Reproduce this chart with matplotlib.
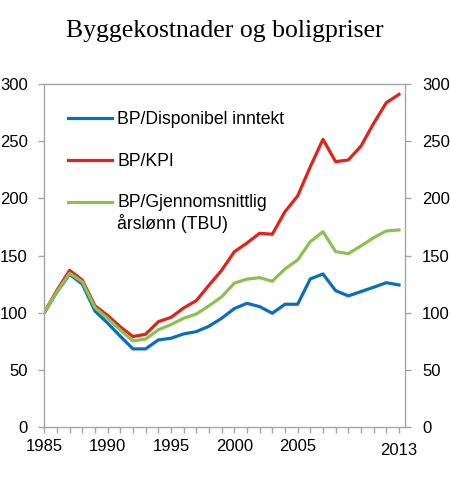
import matplotlib
matplotlib.use("Agg")
import matplotlib.pyplot as plt

years = list(range(1985, 2014))
bp_kpi = [100, 119.5, 137, 128.5, 106, 97.5, 87.5, 79, 81, 92, 95.8, 104, 110.5, 124, 137,
          153.3, 161, 169.5, 168.6, 188.4, 202.2, 227.8, 251.8, 232.2, 233.7, 245.9, 265.8, 283.9, 291.2]
bp_tbu = [100, 118.3, 134.4, 127, 104.3, 95, 84.7, 75.2, 76.8, 84.9, 89.5, 95, 98.7, 105.9, 113.8,
          125.8, 129.3, 130.6, 127.4, 138.2, 146.1, 162.1, 170.9, 153.4, 151.6, 158.4, 165.6, 171.5, 172.4]
bp_inntekt = [100, 118, 133.5, 125, 101.4, 90.8, 79.2, 68.2, 68.2, 76, 77.5, 81.3, 83.3, 88, 95,
              103.5, 108.1, 105.2, 99.4, 107.3, 107.3, 129.5, 133.8, 119.2, 114.6, 118.4, 122.2, 126.2, 124.2]

labels = ["BP/Disponibel inntekt", "BP/KPI", "BP/Gjennomsnittlig\nårslønn (TBU)"]
xtick_major = [1985, 1990, 1995, 2000, 2005, 2013]
yticks = [0, 50, 100, 150, 200, 250, 300]
title = "Byggekostnader og boligpriser"

c_blue = "#0a6ebd"
c_red = "#e2231a"
c_green = "#8cc152"
grey = "#a6a6a6"

plt.rcParams['font.family'] = ['Liberation Sans', 'DejaVu Sans']

fig = plt.figure(figsize=(4.5, 4.78), dpi=100)
ax = fig.add_axes([0.0984, 0.1073, 0.8023, 0.7163])

ax.plot(years, bp_inntekt, color=c_blue, lw=2.3, label=labels[0])
ax.plot(years, bp_kpi, color=c_red, lw=2.3, label=labels[1])
ax.plot(years, bp_tbu, color=c_green, lw=2.3, label=labels[2])

ax.set_xlim(1985, 2013.5)
ax.set_ylim(0, 300)
ax.set_yticks(yticks)
ax.set_xticks(xtick_major)
ax.set_xticks(years, minor=True)
ax.set_xticklabels([str(y) for y in xtick_major])

for s in ax.spines.values():
    s.set_color(grey)
    s.set_linewidth(1.0)

ax.tick_params(axis='y', which='both', direction='out', length=4, width=1, color=grey,
               left=True, right=True, labelleft=True, labelright=True, labelsize=12, pad=8)
ax.tick_params(axis='x', which='both', direction='out', length=4, width=1, color=grey,
               bottom=True, top=False, labelsize=12, pad=5)

ticks = ax.xaxis.get_major_ticks()
ticks[-1].set_pad(8)

leg = ax.legend(loc='upper left', bbox_to_anchor=(0.0657, 0.922), frameon=False, fontsize=12.7,
                handlelength=2.5, handletextpad=0.3, borderpad=0, borderaxespad=0,
                labelspacing=1.4, handleheight=1.09)
for col in leg._legend_handle_box.get_children():
    for row in col.get_children():
        row.align = 'top'

fig.text(0.5, 0.923, title, ha='center', va='baseline', fontsize=18.5,
         family=['Liberation Serif', 'DejaVu Serif'])

fig.savefig("out.png", dpi=100)
